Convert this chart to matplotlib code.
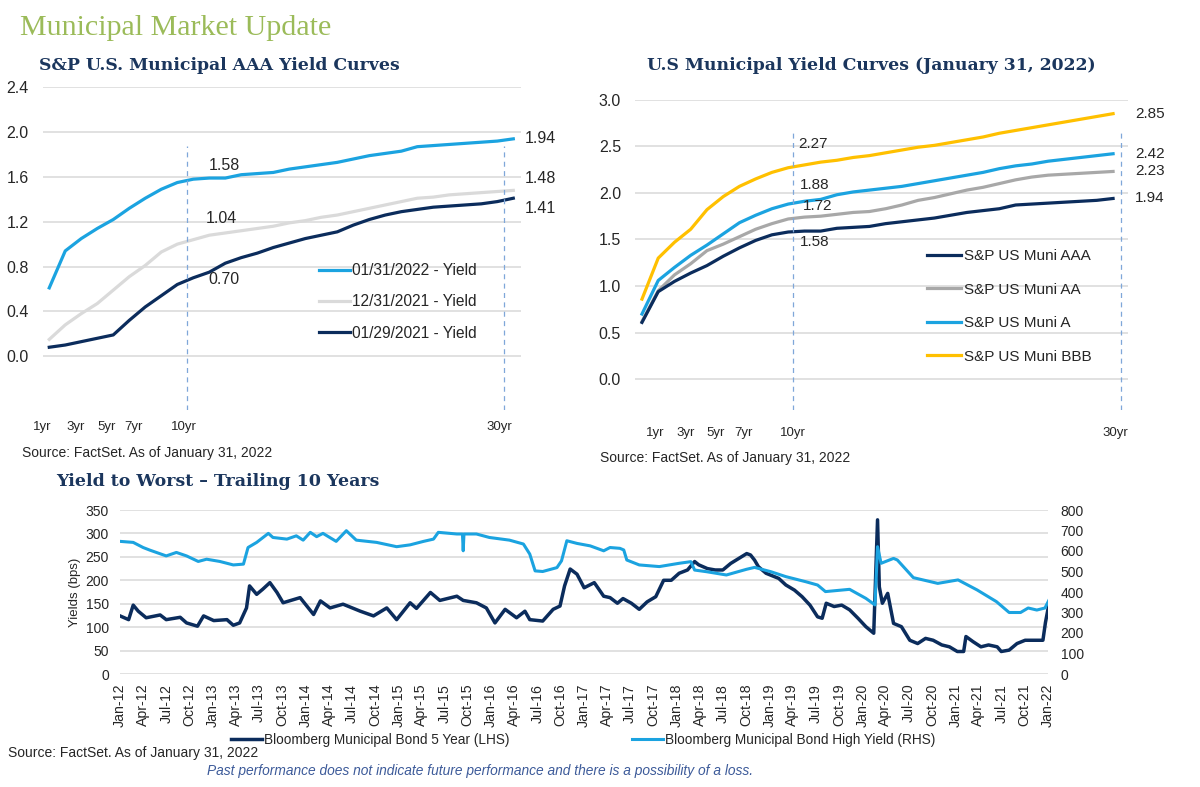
import matplotlib
matplotlib.use("Agg")
import matplotlib.pyplot as plt
import matplotlib.dates as mdates
from matplotlib.ticker import FormatStrFormatter, FixedLocator
from matplotlib.transforms import ScaledTranslation
import pandas as pd

# ------------------------------------------------------------------ data
maturities = list(range(1, 31))
tick_maturities = [1, 3, 5, 7, 10, 30]
tick_labels = ["1yr", "3yr", "5yr", "7yr", "10yr", "30yr"]

aaa_2022_01_31 = [0.61, 0.94, 1.05, 1.14, 1.22, 1.32, 1.41, 1.49, 1.55, 1.58,
                  1.59, 1.59, 1.62, 1.63, 1.64, 1.67, 1.69, 1.71, 1.73, 1.76,
                  1.79, 1.81, 1.83, 1.87, 1.88, 1.89, 1.90, 1.91, 1.92, 1.94]
aaa_2021_12_31 = [0.15, 0.28, 0.38, 0.47, 0.59, 0.71, 0.81, 0.93, 1.00, 1.04,
                  1.08, 1.10, 1.12, 1.14, 1.16, 1.19, 1.21, 1.24, 1.26, 1.29,
                  1.32, 1.35, 1.38, 1.41, 1.42, 1.44, 1.45, 1.46, 1.47, 1.48]
aaa_2021_01_29 = [0.08, 0.10, 0.13, 0.16, 0.19, 0.32, 0.44, 0.54, 0.64, 0.70,
                  0.75, 0.83, 0.88, 0.92, 0.97, 1.01, 1.05, 1.08, 1.11, 1.17,
                  1.22, 1.26, 1.29, 1.31, 1.33, 1.34, 1.35, 1.36, 1.38, 1.41]
left_labels = ["01/31/2022 - Yield", "12/31/2021 - Yield", "01/29/2021 - Yield"]

muni_aaa = aaa_2022_01_31
muni_aa = [0.62, 0.95, 1.12, 1.24, 1.38, 1.45, 1.53, 1.61, 1.67, 1.72,
           1.74, 1.75, 1.77, 1.79, 1.80, 1.83, 1.87, 1.92, 1.95, 1.99,
           2.03, 2.06, 2.10, 2.14, 2.17, 2.19, 2.20, 2.21, 2.22, 2.23]
muni_a = [0.70, 1.06, 1.20, 1.33, 1.44, 1.56, 1.68, 1.76, 1.83, 1.88,
          1.91, 1.93, 1.98, 2.01, 2.03, 2.05, 2.07, 2.10, 2.13, 2.16,
          2.19, 2.22, 2.26, 2.29, 2.31, 2.34, 2.36, 2.38, 2.40, 2.42]
muni_bbb = [0.86, 1.30, 1.47, 1.61, 1.82, 1.96, 2.07, 2.15, 2.22, 2.27,
            2.30, 2.33, 2.35, 2.38, 2.40, 2.43, 2.46, 2.49, 2.51, 2.54,
            2.57, 2.60, 2.64, 2.67, 2.70, 2.73, 2.76, 2.79, 2.82, 2.85]
right_labels = ["S&P US Muni AAA", "S&P US Muni AA", "S&P US Muni A", "S&P US Muni BBB"]

muni5y_dates = [
    "2012-01-01", "2012-02-04", "2012-02-22", "2012-03-13", "2012-04-13", "2012-06-07",
    "2012-07-01", "2012-08-25", "2012-09-19", "2012-11-01", "2012-11-25", "2013-01-04",
    "2013-02-25", "2013-03-22", "2013-04-16", "2013-05-13", "2013-05-25", "2013-06-22",
    "2013-07-16", "2013-08-13", "2013-09-10", "2013-10-04", "2013-12-10", "2014-02-01",
    "2014-02-28", "2014-04-07", "2014-05-28", "2014-08-04", "2014-09-25", "2014-11-16",
    "2014-12-25", "2015-02-16", "2015-03-13", "2015-05-07", "2015-06-13", "2015-08-19",
    "2015-09-13", "2015-11-04", "2015-12-13", "2016-01-16", "2016-02-25", "2016-04-10",
    "2016-05-13", "2016-06-01", "2016-07-22", "2016-09-01", "2016-09-28", "2016-10-16",
    "2016-11-07", "2016-12-04", "2017-01-01", "2017-02-10", "2017-03-19", "2017-04-13",
    "2017-05-12", "2017-06-03", "2017-07-06", "2017-08-06", "2017-09-06",
    "2017-10-10", "2017-11-10", "2017-12-10", "2018-01-10", "2018-02-12", "2018-03-12",
    "2018-03-28", "2018-05-01", "2018-06-01", "2018-07-01", "2018-08-01", "2018-09-03",
    "2018-10-03", "2018-10-18", "2018-11-03", "2018-11-18", "2018-12-18", "2019-02-06",
    "2019-03-06", "2019-04-09", "2019-05-09", "2019-06-09", "2019-07-09", "2019-07-27",
    "2019-08-12", "2019-09-12", "2019-10-12", "2019-11-12", "2019-12-15", "2020-01-15",
    "2020-02-15", "2020-03-01", "2020-03-08", "2020-03-20", "2020-04-10", "2020-05-03",
    "2020-06-03", "2020-07-06", "2020-08-06", "2020-09-06", "2020-10-06", "2020-11-09",
    "2020-12-09", "2021-01-09", "2021-02-03", "2021-02-12", "2021-03-12", "2021-04-12",
    "2021-05-12", "2021-06-15", "2021-07-01", "2021-08-01", "2021-09-01", "2021-10-03",
    "2021-11-18", "2021-12-12", "2021-12-22", "2022-01-05",
]
muni5y_bps = [
    124, 116, 147, 134, 120, 126,
    116, 121, 109, 102, 124, 114,
    116, 104, 109, 141, 188, 170,
    181, 195, 174, 152, 163, 127,
    156, 141, 149, 134, 124, 141,
    116, 152, 140, 174, 157, 166,
    157, 152, 141, 109, 138, 120,
    134, 116, 113, 138, 145, 188,
    224, 213, 184, 195, 166, 163,
    151, 161, 151, 138, 154,
    165, 200, 200, 215, 222, 240,
    233, 225, 222, 222, 236, 247,
    257, 254, 243, 229, 215, 204,
    190, 179, 165, 147, 122, 119,
    151, 144, 147, 137, 119, 101,
    87, 329, 186, 151, 172, 108,
    101, 72, 65, 76, 72, 62,
    58, 48, 48, 80, 69, 58,
    62, 58, 48, 51, 65, 72,
    72, 72, 110, 150,
]

munihy_dates = [
    "2012-01-01", "2012-02-22", "2012-04-01", "2012-04-28", "2012-07-01", "2012-08-10",
    "2012-09-19", "2012-11-04", "2012-12-07", "2013-01-28", "2013-03-22", "2013-05-01",
    "2013-05-19", "2013-06-22", "2013-08-07", "2013-08-25", "2013-10-19", "2013-11-25",
    "2013-12-22", "2014-01-19", "2014-02-13", "2014-03-10", "2014-05-01", "2014-06-10",
    "2014-07-19", "2014-10-07", "2014-12-25", "2015-02-16", "2015-04-10", "2015-05-19",
    "2015-06-07", "2015-08-19", "2015-09-10", "2015-09-13", "2015-09-16", "2015-11-04",
    "2015-12-25", "2016-03-13", "2016-05-07", "2016-06-01", "2016-06-22", "2016-07-22",
    "2016-09-16", "2016-10-04", "2016-10-25", "2016-12-04", "2017-01-25", "2017-03-19",
    "2017-04-13", "2017-05-22", "2017-06-06", "2017-06-18", "2017-08-06", "2017-10-24",
    "2018-01-10", "2018-02-25", "2018-03-12", "2018-04-28", "2018-07-15", "2018-10-03",
    "2018-11-03", "2019-01-06", "2019-03-06", "2019-05-24", "2019-07-09", "2019-08-09",
    "2019-11-12", "2020-01-15", "2020-02-20", "2020-03-01", "2020-03-15", "2020-05-03",
    "2020-05-18", "2020-07-20", "2020-10-24", "2021-01-12", "2021-03-28", "2021-06-12",
    "2021-08-01", "2021-09-15", "2021-10-15", "2021-11-18", "2021-12-20", "2022-01-05",
]
munihy_bps = [
    647, 642, 617, 604, 576, 593,
    576, 549, 560, 549, 532, 536,
    617, 642, 686, 666, 658, 674,
    653, 691, 670, 686, 647, 699,
    653, 642, 621, 630, 647, 658,
    691, 683, 683, 601, 683, 683,
    666, 653, 634, 585, 503, 500,
    519, 552, 650, 637, 625, 601,
    617, 613, 605, 556, 532, 524,
    540, 548, 507, 499, 483, 511,
    520, 499, 475, 450, 434, 402,
    413, 369, 337, 621, 540, 564,
    556, 470, 442, 459, 410, 353,
    300, 300, 322, 312, 322, 361,
]
bottom_labels = ["Bloomberg Municipal Bond 5 Year (LHS)",
                 "Bloomberg Municipal Bond High Yield (RHS)"]

# ------------------------------------------------------------------ style
W, H, DPI = 1200, 787, 100
LBLUE = "#1BA3E0"
NAVY = "#0B2C5C"
LGRAY = "#DADADA"
MGRAY = "#A8A8A8"
GOLD = "#FFC000"
DASH = "#7FA7D9"
GRID = "#D9D9D9"
TXT = "#262626"
HEAD = "#1B365D"
GREEN = "#9BBB59"

plt.rcParams["font.family"] = ["Liberation Sans", "DejaVu Sans"]
fig = plt.figure(figsize=(W / DPI, H / DPI), dpi=DPI)
fig.patch.set_facecolor("white")


def px_axes(l, t, r, b):
    return fig.add_axes([l / W, 1 - b / H, (r - l) / W, (b - t) / H])


def px_text(x, y, s, **kw):
    return fig.text(x / W, 1 - y / H, s, **kw)


def shift(dx_px, dy_px=0):
    return ScaledTranslation(dx_px / DPI, dy_px / DPI, fig.dpi_scale_trans)


def style_curve_axes(ax, yticks, ylim, xlim, xpad, label_dx):
    ax.set_xlim(*xlim)
    ax.set_ylim(*ylim)
    ax.yaxis.set_major_locator(FixedLocator(yticks))
    ax.yaxis.set_major_formatter(FormatStrFormatter("%.1f"))
    ax.set_xticks(tick_maturities)
    ax.set_xticklabels(tick_labels)
    ax.grid(axis="y", color=GRID, lw=1.1)
    ax.set_axisbelow(True)
    for s in ax.spines.values():
        s.set_visible(False)
    ax.tick_params(axis="y", length=0, pad=10, labelsize=11.5, labelcolor=TXT)
    ax.tick_params(axis="x", length=0, pad=xpad, labelsize=9.5, labelcolor=TXT)
    for lbl, dx in zip(ax.get_xticklabels(), label_dx):
        lbl.set_transform(lbl.get_transform() + shift(dx))


def dashed_marker(ax, xm, ytop, dx):
    ln = ax.axvline(xm, ymin=0, ymax=ytop, color=DASH, lw=0.9, dashes=(4, 3.5))
    ln.set_transform(ln.get_transform() + shift(dx))


# ------------------------------------------------------------------ titles
px_text(20, 35, "Municipal Market Update", family="Liberation Serif",
        fontsize=21.6, color=GREEN, va="baseline")
px_text(39, 69.5, "S&P U.S. Municipal AAA Yield Curves", family="DejaVu Serif",
        fontweight="bold", fontsize=12.4, color=HEAD, va="baseline")
px_text(647, 69.5, "U.S Municipal Yield Curves (January 31, 2022)", family="DejaVu Serif",
        fontweight="bold", fontsize=12.4, color=HEAD, va="baseline")
px_text(56, 486, "Yield to Worst \u2013 Trailing 10 Years", family="DejaVu Serif",
        fontweight="bold", fontsize=12.5, color=HEAD, va="baseline")

# ------------------------------------------------------------------ top-left chart
ax1 = px_axes(42.7, 87.3, 520.5, 410)
l_a = ax1.plot(maturities, aaa_2022_01_31, color=LBLUE, lw=2.3, label=left_labels[0])[0]
l_b = ax1.plot(maturities, aaa_2021_12_31, color=LGRAY, lw=2.3, label=left_labels[1])[0]
l_c = ax1.plot(maturities, aaa_2021_01_29, color=NAVY, lw=2.3, label=left_labels[2])[0]
style_curve_axes(ax1, [0, 0.4, 0.8, 1.2, 1.6, 2.0, 2.4], (-0.48, 2.4), (0.59, 30.45),
                 8, [-6.6, -5.3, -6.3, -11.3, -9.3, -14])
for xm, dx in zip([10, 30], [-6, -9.4]):
    dashed_marker(ax1, xm, 0.819, dx)

i10, i30 = maturities.index(10), maturities.index(30)
for series, off in zip([aaa_2022_01_31, aaa_2021_12_31, aaa_2021_01_29],
                       [(31, 14), (28, 21.5), (31, -1.4)]):
    v = series[i10]
    ax1.annotate(f"{v:.2f}", xy=(10, v), xytext=(off[0] * 0.72, off[1] * 0.72),
                 textcoords="offset points", ha="center", va="center",
                 fontsize=11.5, color=TXT)
for series, dy in zip([aaa_2022_01_31, aaa_2021_12_31, aaa_2021_01_29], [0, 12, -10]):
    v = series[i30]
    ax1.annotate(f"{v:.2f}", xy=(30, v), xytext=(11 * 0.72, dy * 0.72),
                 textcoords="offset points", ha="left", va="center",
                 fontsize=11.5, color=TXT, annotation_clip=False)

fig.legend(handles=[l_a, l_b, l_c], loc="upper left",
           bbox_to_anchor=(319 / W, 1 - 263 / H), frameon=False, fontsize=11.2,
           handlelength=2.0, handletextpad=0.15, labelspacing=1.05,
           borderpad=0, borderaxespad=0, labelcolor=TXT)
px_text(21.5, 453, "Source: FactSet. As of January 31, 2022", fontsize=10,
        color=TXT, va="center")

# ------------------------------------------------------------------ top-right chart
ax2 = px_axes(635, 99.7, 1127.7, 410)
r_bbb = ax2.plot(maturities, muni_bbb, color=GOLD, lw=2.3, label=right_labels[3])[0]
r_a = ax2.plot(maturities, muni_a, color=LBLUE, lw=2.3, label=right_labels[2])[0]
r_aa = ax2.plot(maturities, muni_aa, color=MGRAY, lw=2.3, label=right_labels[1])[0]
r_aaa = ax2.plot(maturities, muni_aaa, color=NAVY, lw=2.3, label=right_labels[0])[0]
style_curve_axes(ax2, [0, 0.5, 1.0, 1.5, 2.0, 2.5, 3.0], (-0.33, 3.0), (0.57, 30.9),
                 12, [13.7, 11.3, 9, 3.6, 4.4, 1.8])
for xm, dx in zip([10, 30], [5, 8]):
    dashed_marker(ax2, xm, 0.892, dx)
for series, off in zip([muni_bbb, muni_a, muni_aa, muni_aaa],
                       [(25, 23.4), (27, 18.8), (29, 12.7), (27, -10)]):
    v = series[i10]
    ax2.annotate(f"{v:.2f}", xy=(10, v), xytext=(off[0] * 0.72, off[1] * 0.72),
                 textcoords="offset points", ha="center", va="center",
                 fontsize=11, color=TXT)
for series in [muni_bbb, muni_a, muni_aa, muni_aaa]:
    v = series[i30]
    ax2.annotate(f"{v:.2f}", xy=(30, v), xytext=(22 * 0.72, 0),
                 textcoords="offset points", ha="left", va="center",
                 fontsize=11, color=TXT, annotation_clip=False)
fig.legend(handles=[r_aaa, r_aa, r_a, r_bbb], loc="upper left",
           bbox_to_anchor=(927 / W, 1 - 249.3 / H), frameon=False, fontsize=11,
           handlelength=2.25, handletextpad=0.15, labelspacing=1.27,
           borderpad=0, borderaxespad=0, labelcolor=TXT)
px_text(600, 458, "Source: FactSet. As of January 31, 2022", fontsize=10,
        color=TXT, va="center")

# ------------------------------------------------------------------ bottom chart
ax3 = px_axes(120, 510, 1048, 674)
ax4 = ax3.twinx()
b1 = ax3.plot(pd.to_datetime(muni5y_dates), muni5y_bps, color=NAVY, lw=2.5,
              label=bottom_labels[0])[0]
b2 = ax4.plot(pd.to_datetime(munihy_dates), munihy_bps, color=LBLUE, lw=2.2,
              label=bottom_labels[1])[0]
ax3.set_xlim(pd.Timestamp("2012-01-01"), pd.Timestamp("2022-01-01"))
ax3.set_ylim(0, 350)
ax4.set_ylim(0, 800)
ax3.yaxis.set_major_locator(FixedLocator(range(0, 351, 50)))
ax4.yaxis.set_major_locator(FixedLocator(range(0, 801, 100)))
ax3.xaxis.set_major_locator(mdates.MonthLocator(bymonth=[1, 4, 7, 10]))
ax3.xaxis.set_major_formatter(mdates.DateFormatter("%b-%y"))
ax3.grid(axis="y", color=GRID, lw=1.1)
ax3.set_axisbelow(True)
for a in (ax3, ax4):
    for s in a.spines.values():
        s.set_visible(False)
ax3.tick_params(axis="y", length=0, pad=8, labelsize=10, labelcolor=TXT)
ax4.tick_params(axis="y", length=0, pad=9, labelsize=10, labelcolor=TXT)
ax3.tick_params(axis="x", length=0, pad=7, labelsize=10.2, labelcolor=TXT,
                labelrotation=90)
px_text(75, 592, "Yields (bps)", fontsize=9.5, color=TXT, rotation=90,
        ha="center", va="center")

fig.legend(handles=[b1], loc="upper left", bbox_to_anchor=(231 / W, 1 - 733 / H),
           frameon=False, fontsize=9.8, handlelength=2.3, handletextpad=0.1,
           borderpad=0, borderaxespad=0, labelcolor=TXT)
fig.legend(handles=[b2], loc="upper left", bbox_to_anchor=(632 / W, 1 - 733 / H),
           frameon=False, fontsize=9.8, handlelength=2.3, handletextpad=0.1,
           borderpad=0, borderaxespad=0, labelcolor=TXT)
px_text(8, 753, "Source: FactSet. As of January 31, 2022", fontsize=10,
        color=TXT, va="center")
px_text(207, 771, "Past performance does not indicate future performance and there "
        "is a possibility of a loss.", fontsize=9.9, style="italic",
        color="#3C5A99", va="center")

fig.savefig("out.png", dpi=DPI, facecolor="white")
